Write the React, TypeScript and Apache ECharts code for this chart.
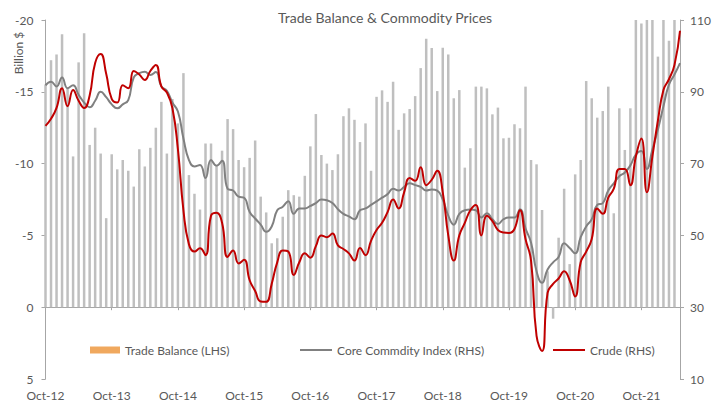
import React, { useEffect, useRef } from "react";
import * as echarts from "echarts";

const monthNames = ["Jan", "Feb", "Mar", "Apr", "May", "Jun", "Jul", "Aug", "Sep", "Oct", "Nov", "Dec"];
// Monthly categories Oct-12 .. May-22
const categories: string[] = [];
for (let i = 0; i < 116; i++) {
  const m = (9 + i) % 12;
  const y = 12 + Math.floor((9 + i) / 12);
  categories.push(`${monthNames[m]}-${y}`);
}

const leftTicks = [-20, -15, -10, -5, 0, 5];
const rightTicks = [10, 30, 50, 70, 90, 110];

// Trade balance, billion $ (LHS)
const tradeBalance: (number | null)[] = [
  -15.5, -17.2, -17.6, -19.0, -15.2, -10.5, -17.05, -19.07, -11.3, -12.5, -10.7, -6.2,
  -10.65, -9.6, -10.25, -9.5, -8.4, -11.0, -9.8, -11.1, -12.5, -14.3, -10.7, -14.5,
  -12.8, -16.3, -9.2, -7.9, -6.8, -11.4, -11.4, -9.8, -10.9, -13.1, -12.4, -10.25,
  -9.75, -10.4, -11.6, -7.7, -6.6, -4.45, -4.8, -6.3, -8.15, -7.8, -7.7, -9.15,
  -11.2, -13.45, -10.6, -10.0, -9.55, -10.65, -13.3, -13.85, -13.05, -11.5, -12.8, -9.5,
  -14.65, -15.1, -14.3, -15.7, -12.35, -13.5, -13.8, -14.7, -16.65, -18.7, -18.05, -15.05,
  -18.07, -17.6, -14.55, -15.12, -9.72, -11.07, -15.36, -15.36, -15.24, -13.43, -13.9, -11.76,
  -11.8, -12.74, -12.46, -15.36, -10.25, -9.95, -6.77, -2.5, 0.8, -4.84, -8.25, -3.0,
  -9.25, -10.25, -15.75, -14.55, -13.2, -13.66, -15.36, -6.54, -13.85, -10.95, -13.85, -20,
  -19.75, -20, -20, -17.45, -20, -18.55, -20, null,
];

// Core commodity index (RHS)
const coreIndex: number[] = [
  91.8, 92.8, 91.5, 94.0, 91.0, 91.8, 89.2, 87.0, 85.7, 87.5, 90.0, 88.5,
  86.5, 85.4, 86.5, 87.7, 94.0, 95.2, 95.6, 94.7, 95.5, 91.5, 90.3, 87.0,
  84.5, 77.0, 71.0, 69.2, 69.6, 66.0, 71.0, 69.4, 70.8, 63.0, 62.5, 60.8,
  60.5, 56.5, 54.7, 53.0, 51.0, 52.5, 57.0, 58.0, 59.5, 56.0, 57.5, 57.5,
  58.2, 59.0, 60.0, 59.8, 59.0, 57.3, 56.0, 55.3, 54.5, 57.0, 57.5, 58.5,
  59.5, 60.5, 61.5, 63.0, 62.5, 63.5, 64.5, 64.0, 63.5, 62.5, 62.8, 62.5,
  60.0, 55.5, 53.0, 56.0, 57.0, 57.2, 57.0, 55.0, 56.2, 54.5, 53.2, 54.5,
  55.0, 55.0, 57.3, 52.0, 48.0, 40.0, 36.8, 40.5, 42.5, 44.0, 47.8, 46.5,
  45.0, 49.5, 52.5, 54.5, 58.5, 59.0, 62.5, 64.5, 66.5, 67.5, 69.5, 72.5,
  73.5, 68.5, 74.0, 79.5, 86.0, 92.0, 94.8, 98.0,
];

// Crude (RHS)
const crude: number[] = [
  80.5, 82.5, 85.5, 91.0, 86.0, 90.5, 87.5, 85.5, 89.0, 98.0, 100.5, 95.0,
  88.0, 87.0, 91.8, 91.0, 95.8, 94.8, 93.3, 95.8, 97.5, 91.5, 89.8, 85.5,
  74.0, 57.0, 47.5, 45.5, 46.4, 44.5, 55.5, 56.3, 53.5, 44.0, 45.8, 42.2,
  43.2, 37.5, 34.5, 31.6, 31.5, 36.5, 42.5, 45.8, 45.5, 39.0, 42.5, 45.0,
  43.8, 47.0, 50.0, 49.5, 50.5, 47.2, 46.2, 45.0, 43.0, 46.5, 44.5, 48.5,
  51.5, 53.5, 56.5, 60.0, 57.5, 62.0, 66.0, 65.2, 69.0, 64.0, 65.5, 68.0,
  62.0, 50.0, 43.0, 50.0, 53.5, 57.0, 58.5, 50.0, 55.5, 54.0, 51.5, 50.8,
  50.7, 51.8, 57.0, 49.0, 43.0, 22.0, 17.8, 34.0, 36.5, 38.0, 40.0, 37.5,
  33.0, 42.5, 45.5, 49.0, 57.5, 56.0, 60.5, 63.0, 68.5, 68.5, 64.0, 72.0,
  77.0, 62.0, 72.0, 82.0, 90.5, 93.5, 97.5, 107.0,
];

const TEXT = "#595959";
const AXIS = "#A6A6A6";
const FONT = "Lato";
const GREY_LINE = "#808080";
const RED_LINE = "#C00000";

export default function App() {
  const ref = useRef<HTMLDivElement>(null);
  useEffect(() => {
    if (!ref.current) return;
    const chart = echarts.init(ref.current, undefined, { renderer: "svg" });
    const textStyle = { color: TEXT, fontSize: 12, fontFamily: FONT };
    chart.setOption({
      animation: false,
      backgroundColor: "#ffffff",
      title: {
        text: "Trade Balance & Commodity Prices",
        left: 273,
        top: 5,
        textStyle: { color: TEXT, fontSize: 14, fontWeight: "normal", fontFamily: FONT },
      },
      grid: { left: 45.5, right: 46, top: 20, bottom: 26, containLabel: false, outerBoundsMode: "none" },
      legend: [
        {
          data: [{ name: "Trade Balance (LHS)", itemStyle: { color: "#F0A85E" } }],
          left: 85,
          top: 339,
          icon: "rect",
          itemWidth: 30,
          itemHeight: 7,
          textStyle,
          selectedMode: false,
        },
        {
          data: [{ name: "Core Commdity Index (RHS)", itemStyle: { color: GREY_LINE } }],
          left: 295,
          top: 339,
          icon: "rect",
          itemWidth: 32,
          itemHeight: 2,
          textStyle,
          selectedMode: false,
        },
        {
          data: [{ name: "Crude (RHS)", itemStyle: { color: RED_LINE } }],
          left: 548,
          top: 339,
          icon: "rect",
          itemWidth: 32,
          itemHeight: 2,
          textStyle,
          selectedMode: false,
        },
      ],
      xAxis: {
        type: "category",
        data: categories,
        boundaryGap: false,
        axisLine: { show: true, onZero: true, onZeroAxisIndex: 0, lineStyle: { color: AXIS, width: 1 } },
        axisTick: { show: true, interval: 11, length: 3, lineStyle: { color: AXIS } },
        axisLabel: {
          interval: 11,
          margin: 10,
          ...textStyle,
        },
        splitLine: { show: false },
      },
      yAxis: [
        {
          type: "value",
          position: "left",
          inverse: true,
          min: leftTicks[0],
          max: leftTicks[leftTicks.length - 1],
          interval: 5,
          axisLine: { show: true, lineStyle: { color: AXIS, width: 1 } },
          axisTick: { show: true, length: 4, lineStyle: { color: AXIS } },
          axisLabel: { margin: 12, ...textStyle },
          splitLine: { show: false },
        },
        {
          type: "value",
          position: "right",
          min: rightTicks[0],
          max: rightTicks[rightTicks.length - 1],
          axisLine: { show: true, lineStyle: { color: AXIS, width: 1 } },
          axisTick: { show: true, length: 4, customValues: rightTicks, lineStyle: { color: AXIS } },
          axisLabel: { margin: 10, customValues: rightTicks, ...textStyle },
          splitLine: { show: false },
        },
      ],
      graphic: [
        {
          type: "text",
          x: 18,
          y: 53,
          rotation: Math.PI / 2,
          style: {
            text: "Billion $",
            fill: TEXT,
            font: `12px ${FONT}`,
            align: "center",
            verticalAlign: "middle",
          },
        },
      ],
      series: [
        {
          name: "Trade Balance (LHS)",
          type: "bar",
          yAxisIndex: 0,
          data: tradeBalance,
          barWidth: 2.5,
          itemStyle: { color: "#BFBFBF" },
          z: 1,
        },
        {
          name: "Core Commdity Index (RHS)",
          type: "line",
          yAxisIndex: 1,
          data: coreIndex,
          smooth: true,
          symbol: "none",
          showSymbol: false,
          lineStyle: { color: GREY_LINE, width: 2 },
          itemStyle: { color: GREY_LINE },
          z: 3,
        },
        {
          name: "Crude (RHS)",
          type: "line",
          yAxisIndex: 1,
          data: crude,
          smooth: true,
          symbol: "none",
          showSymbol: false,
          lineStyle: { color: RED_LINE, width: 2 },
          itemStyle: { color: RED_LINE },
          z: 4,
        },
      ],
    });
    return () => chart.dispose();
  }, []);
  return (
    <div
      ref={ref}
      style={{ position: "fixed", left: 0, top: 0, width: 726, height: 405 }}
    />
  );
}
